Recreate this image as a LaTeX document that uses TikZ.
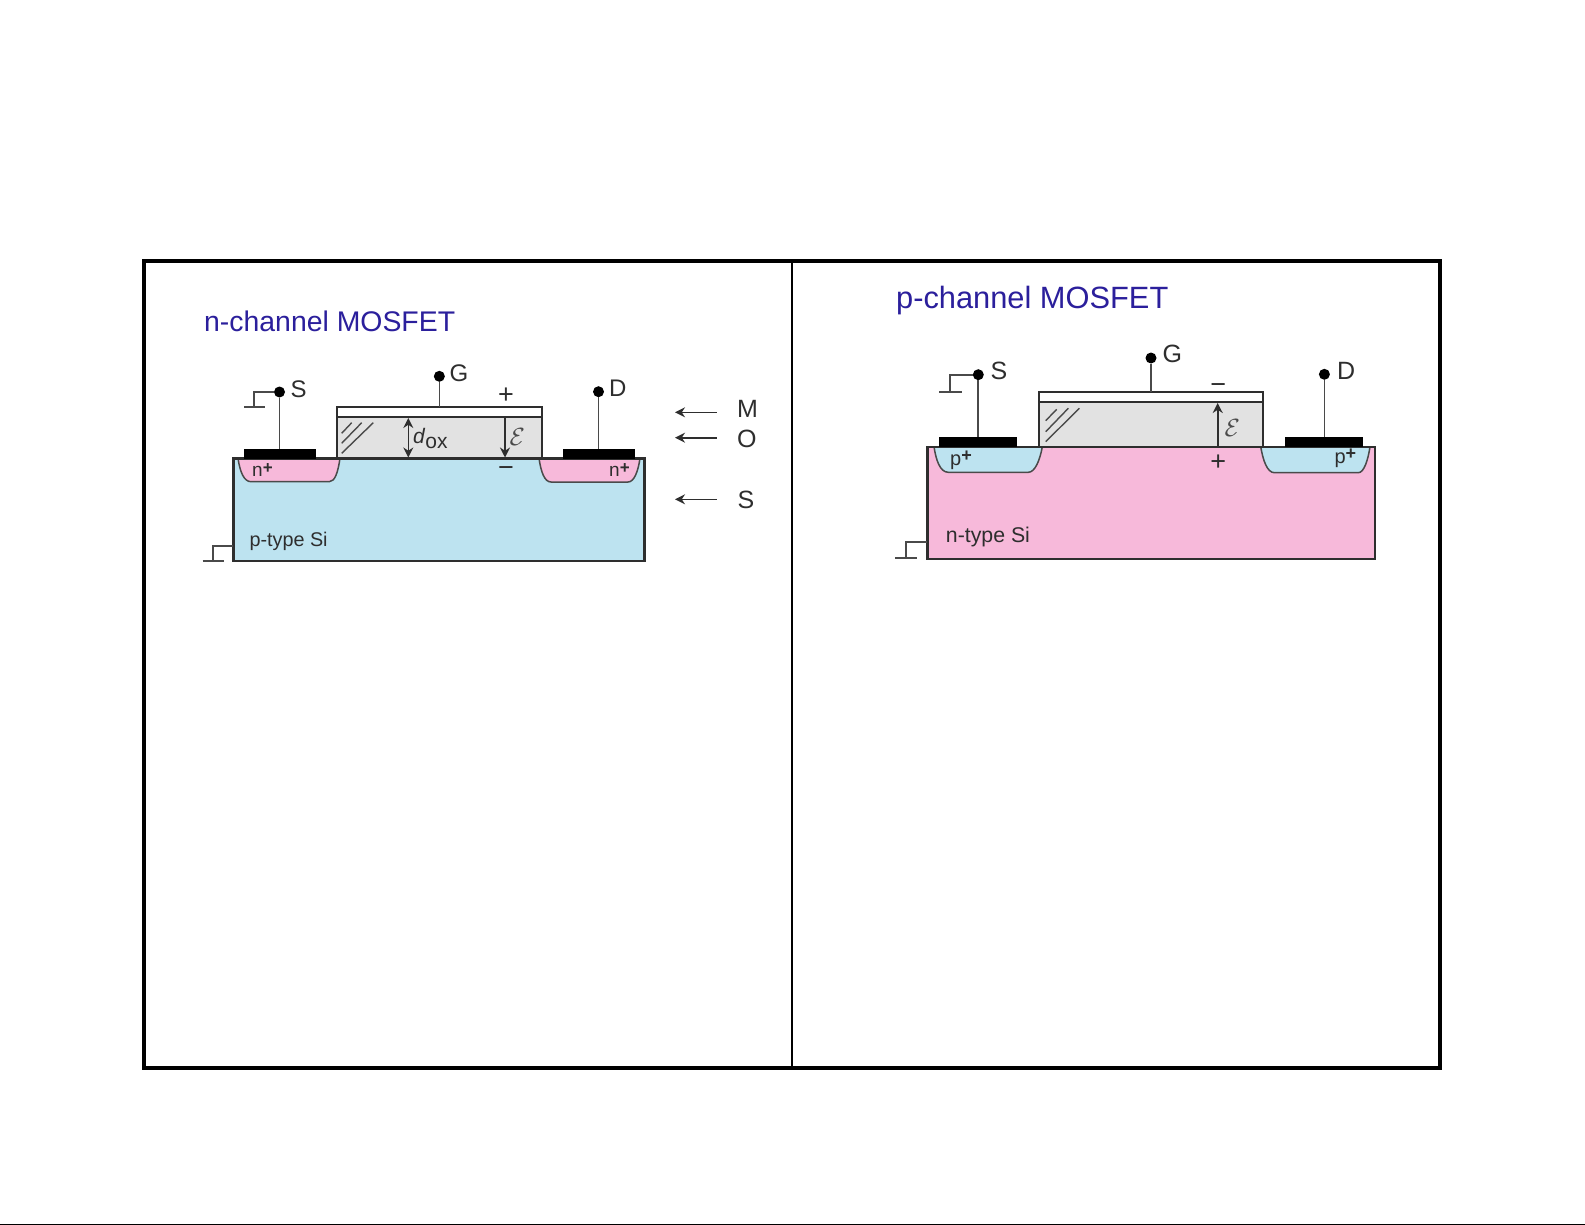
\documentclass[tikz,border=0pt]{standalone}
\usepackage{fontspec}
\setmainfont{Liberation Sans}
\usetikzlibrary{arrows.meta}
\definecolor{ink}{HTML}{2E2E2E}
\definecolor{wirec}{HTML}{4A4A4A}
\definecolor{titlec}{HTML}{2B1F9C}
\definecolor{siblue}{HTML}{BDE3F0}
\definecolor{sipink}{HTML}{F7B9DA}
\definecolor{oxgray}{HTML}{E2E2E2}
\newcommand{\fsz}[1]{\fontsize{#1}{#1}\selectfont}
\newcommand{\supplus}[1]{\raisebox{3.7pt}{\fsz{#1}\bfseries +}}
\tikzset{
  box/.style={rectangle,inner sep=0pt,outer sep=0pt,anchor=center},
  edge/.style={draw=ink,line width=2.4pt},
  wire/.style={draw=wirec,line width=1.7pt},
  well/.style={draw=wirec,line width=1.5pt},
  contact/.style={box,fill=black,minimum height=10pt,minimum width=#1},
  dotn/.style={circle,fill=black,inner sep=0pt,outer sep=0pt,minimum size=11pt},
  term/.style={anchor=west,inner sep=0pt,text=ink,font=\fsz{#1}},
  side/.style={anchor=west,inner sep=0pt,text=ink,font=\fsz{25}},
  small/.style={anchor=base west,inner sep=0pt,text=ink,font=\fsz{#1}},
  title/.style={anchor=base west,inner sep=0pt,text=titlec,font=\fsz{#1}},
  sign/.style={inner sep=0pt,text=ink,font=\fsz{27}},
  field/.style={draw=ink,line width=1.6pt,-{Stealth[length=10pt,width=10pt]}},
  sidearrow/.style={draw=ink,line width=1.6pt,-{Stealth[length=10pt,width=10pt]}},
  hatch/.style={draw=wirec,line width=1.4pt},
}
\begin{document}
\begin{tikzpicture}[x=1pt,y=-1pt]
\useasboundingbox (0,0) rectangle (1585,1225);
\fill[white] (0,0) rectangle (1585,1225);
% outer frame
\coordinate (frameTL) at (144,261);
\coordinate (frameBR) at (1440,1068);
\coordinate (divT) at (792,261);
\coordinate (divB) at (792,1068);
\draw[black,line width=1.7pt] (divT) -- (divB);
\draw[black,line width=4pt] (frameTL) rectangle (frameBR);
\fill[black] (0,1224) rectangle (1585,1225);

% ===== n-channel =====
\node[title=28.4] (titleN) at (204,331) {n-channel MOSFET};
\node[box,fill=siblue,minimum width=411pt,minimum height=102.4pt] (subN) at (438.8,509.5) {};
\path[fill=sipink] (238,458.3) .. controls (240,472) and (244,481.7) .. (251,481.7) -- (329.3,481.7) .. controls (335,481.7) and (338,472) .. (340,458.3) -- cycle;
\draw[well] (238,458.3) .. controls (240,472) and (244,481.7) .. (251,481.7) -- (329.3,481.7) .. controls (335,481.7) and (338,472) .. (340,458.3);
\path[fill=sipink] (539,458.3) .. controls (541,472) and (544.5,482) .. (551,482) -- (628,482) .. controls (634,482) and (638,472) .. (640,458.3) -- cycle;
\draw[well] (539,458.3) .. controls (541,472) and (544.5,482) .. (551,482) -- (628,482) .. controls (634,482) and (638,472) .. (640,458.3);
% oxide and metal
\node[box,fill=oxgray,draw=ink,line width=2.2pt,minimum width=205.3pt,minimum height=41pt] (oxN) at (439.35,437.8) {};
\node[box,fill=white,draw=ink,line width=2.2pt,minimum width=205.3pt,minimum height=10pt] (metalN) at (439.35,412.3) {};
\draw[edge] (subN.north west) -- (subN.north east) -- (subN.south east) -- (subN.south west) -- cycle;
% hatch
\draw[hatch] (341.7,453.3) -- (373.3,422.7);
\draw[hatch] (341.7,443.3) -- (361.7,422.7);
\draw[hatch] (341.7,433.3) -- (351.7,422.7);
% contacts and terminals
\node[contact=72pt] (conSN) at (279.5,453.5) {};
\node[contact=72pt] (conDN) at (598.5,453.5) {};
\node[dotn] (dotSN) at (279.5,392) {};
\node[dotn] (dotGN) at (439.35,376.3) {};
\node[dotn] (dotDN) at (598.5,391.7) {};
\draw[wire] (dotSN) -- (conSN);
\draw[wire] (dotGN) -- (metalN);
\draw[wire] (dotDN) -- (conDN);
\node[term=24] (lSN) at (290.5,389) {S};
\node[term=24] (lGN) at (449.5,373) {G};
\node[term=24] (lDN) at (609,388.3) {D};
% grounds
\coordinate (gndSN) at (254,406.7);
\draw[wire] (dotSN) -| (gndSN);
\draw[wire] (244,406.7) -- (265,406.7);
\coordinate (subNg) at (233.3,545.7);
\coordinate (gndBN) at (213.3,560.7);
\draw[wire] (subNg) -| (gndBN);
\draw[wire] (202.7,560.7) -- (224,560.7);
% labels in the device
\node[small=19.8] (ptype) at (249.3,546.7) {p-type Si};
\node[small=19] (nL) at (252,476.7) {n\supplus{17}};
\node[small=19] (nR) at (609,476.7) {n\supplus{17}};
% dox
\coordinate (doxT) at (408.3,418);
\coordinate (doxB) at (408.3,457.5);
\draw[field,{Stealth[length=10pt,width=10pt]}-{Stealth[length=10pt,width=10pt]}] (doxT) -- (doxB);
\node[small=21] (dox) at (413,443) {\textit{d}\raisebox{-5pt}{\fsz{21}ox}};
% field
\coordinate (eT) at (505,418);
\coordinate (eB) at (505,457.5);
\draw[field] (eT) -- (eB);
\node[inner sep=0pt,text=wirec,font=\fsz{25}] (eN) at (517.3,437) {$\mathcal{E}$};
\node[sign] (plusN) at (506,395.7) {+};
\node[sign] (minusN) at (506,471.5) {−};
% side labels
\node[side] (lM) at (737,408.5) {M};
\node[side] (lO) at (737,439) {O};
\node[side] (lS) at (737.5,500) {S};
\coordinate (aM) at (716.7,412.3);
\coordinate (tM) at (675,412.3);
\coordinate (aO) at (716.7,437.7);
\coordinate (tO) at (675,437.7);
\coordinate (aS) at (716.7,499.3);
\coordinate (tS) at (675,499.3);
\draw[sidearrow] (aM) -- (tM);
\draw[sidearrow] (aO) -- (tO);
\draw[sidearrow] (aS) -- (tS);

% ===== p-channel =====
\node[title=30.8] (titleP) at (896,308) {p-channel MOSFET};
\node[box,fill=sipink,minimum width=447.7pt,minimum height=112pt] (subP) at (1151.15,502.7) {};
\path[fill=siblue] (934,446.7) .. controls (936,460) and (940,472.3) .. (948.3,472.3) -- (1028.3,472.3) .. controls (1035,472.3) and (1040,460) .. (1042.3,446.7) -- cycle;
\draw[well] (934,446.7) .. controls (936,460) and (940,472.3) .. (948.3,472.3) -- (1028.3,472.3) .. controls (1035,472.3) and (1040,460) .. (1042.3,446.7);
\path[fill=siblue] (1260.7,446.7) .. controls (1263,460) and (1267,472.7) .. (1274.5,472.7) -- (1358.3,472.7) .. controls (1364,472.7) and (1368,460) .. (1370,446.7) -- cycle;
\draw[well] (1260.7,446.7) .. controls (1263,460) and (1267,472.7) .. (1274.5,472.7) -- (1358.3,472.7) .. controls (1364,472.7) and (1368,460) .. (1370,446.7);
\node[box,fill=oxgray,draw=ink,line width=2.2pt,minimum width=223.4pt,minimum height=44.4pt] (oxP) at (1151,424.5) {};
\node[box,fill=white,draw=ink,line width=2.2pt,minimum width=223.4pt,minimum height=10.6pt] (metalP) at (1151,397) {};
\draw[edge] (subP.north west) -- (subP.north east) -- (subP.south east) -- (subP.south west) -- cycle;
\draw[hatch] (1045.7,441.7) -- (1079.3,408.3);
\draw[hatch] (1045.7,431.7) -- (1068.3,408.3);
\draw[hatch] (1045.7,420.7) -- (1056.7,409.3);
\node[contact=78pt] (conSP) at (978.3,441.5) {};
\node[contact=78pt] (conDP) at (1324.4,441.5) {};
\node[dotn] (dotSP) at (978.3,374.7) {};
\node[dotn] (dotGP) at (1151,358) {};
\node[dotn] (dotDP) at (1324.4,374.3) {};
\draw[wire] (dotSP) -- (conSP);
\draw[wire] (dotGP) -- (metalP);
\draw[wire] (dotDP) -- (conDP);
\node[term=25] (lSP) at (990.5,370.7) {S};
\node[term=25] (lGP) at (1162.5,354) {G};
\node[term=25] (lDP) at (1336.8,370.7) {D};
\coordinate (gndSP) at (950,391.7);
\draw[wire] (dotSP) -| (gndSP);
\draw[wire] (939.3,391.7) -- (961.7,391.7);
\coordinate (subPg) at (927.3,541.7);
\coordinate (gndBP) at (906,558.3);
\draw[wire] (subPg) -| (gndBP);
\draw[wire] (895,558.3) -- (916.7,558.3);
\node[small=21.3] (ntype) at (945.7,542.3) {n-type Si};
\node[small=20] (pL) at (950,465) {p\supplus{18}};
\node[small=20] (pR) at (1334.3,463) {p\supplus{18}};
\coordinate (e2T) at (1217.7,403);
\coordinate (e2B) at (1217.7,446);
\draw[field] (e2B) -- (e2T);
\node[inner sep=0pt,text=wirec,font=\fsz{26}] (eP) at (1232.3,428.3) {$\mathcal{E}$};
\node[sign] (minusP) at (1218.3,388.5) {−};
\node[sign] (plusP) at (1218.3,462.7) {+};
\end{tikzpicture}
\end{document}
